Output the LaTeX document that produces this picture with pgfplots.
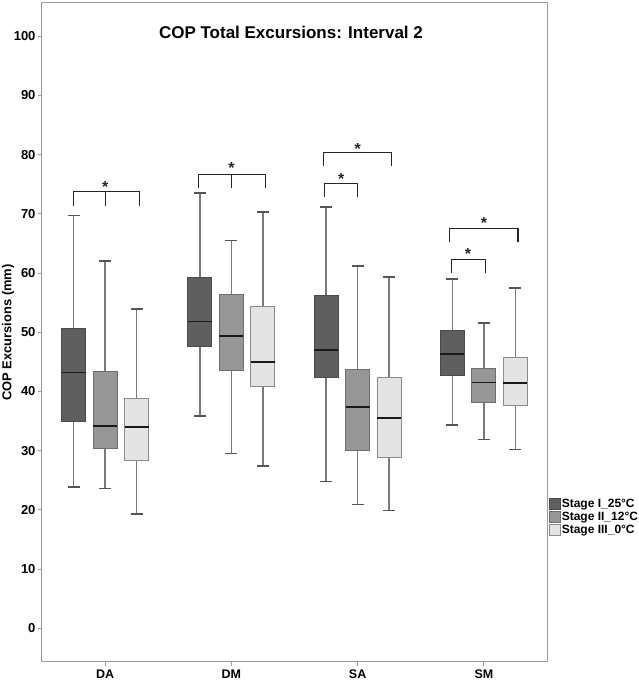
\documentclass[border=0pt]{standalone}
\usepackage{fontspec}
\setmainfont{Liberation Sans}
\usepackage{pgfplots}
\pgfplotsset{compat=1.18}
\definecolor{sone}{HTML}{5F5F5F}
\definecolor{stwo}{HTML}{979797}
\definecolor{sthree}{HTML}{E4E4E4}
\definecolor{bone}{HTML}{4A4A4A}
\definecolor{btwo}{HTML}{6E6E6E}
\definecolor{bthree}{HTML}{8A8A8A}
\definecolor{whisk}{HTML}{7A7A7A}
\definecolor{capc}{HTML}{555555}
\definecolor{framec}{HTML}{9A9A9A}
\pgfplotsset{
  sI/.style={fill=sone, draw=bone, line width=0.9pt},
  sII/.style={fill=stwo, draw=btwo, line width=0.9pt},
  sIII/.style={fill=sthree, draw=bthree, line width=0.9pt},
  whiskst/.style={draw=whisk, line width=1.4pt, mark=none},
  capst/.style={draw=capc, line width=1.7pt, mark=none},
  medst/.style={draw=black!90, line width=1.9pt, mark=none},
}
% #1 style, #2 position, #3 lower whisker, #4 Q1, #5 median, #6 Q3, #7 upper whisker
\newcommand{\drawbox}[7]{%
  \pgfmathsetmacro\myboxL{#2-0.095}\pgfmathsetmacro\myboxR{#2+0.095}%
  \pgfmathsetmacro\mycapL{#2-0.0475}\pgfmathsetmacro\mycapR{#2+0.0475}%
  \addplot[whiskst] coordinates {(#2,#3) (#2,#7)};
  \addplot[capst] coordinates {(\mycapL,#3) (\mycapR,#3)};
  \addplot[capst] coordinates {(\mycapL,#7) (\mycapR,#7)};
  \addplot[#1, mark=none] coordinates {(\myboxL,#4) (\myboxR,#4) (\myboxR,#6) (\myboxL,#6)} -- cycle;
  \addplot[medst] coordinates {(\myboxL,#5) (\myboxR,#5)};
}
\begin{document}
\begin{tikzpicture}
\useasboundingbox (0pt,0pt) rectangle (638pt,680pt);
\begin{axis}[
  at={(42pt,18pt)}, anchor=south west,
  scale only axis, width=505pt, height=659pt,
  xmin=0.5, xmax=4.5, ymin=-5.7, ymax=105.6,
  xtick={1,2,3,4}, xticklabels={DA,DM,SA,SM},
  ytick={0,10,...,100},
  xtick pos=lower, ytick pos=left,
  tick align=outside, major tick length=4pt,
  tick style={framec, line width=0.8pt},
  axis line style={framec, line width=1pt},
  /pgf/number format/assume math mode=true,
  yticklabel style={font=\bfseries\fontsize{13}{13}\selectfont, xshift=1pt},
  xticklabel style={font=\bfseries\fontsize{12.5}{12.5}\selectfont},
  ylabel={COP Excursions (mm)},
  every axis y label/.style={at={(rel axis cs:-0.0673,0.5)}, rotate=90, anchor=center,
    font=\bfseries\fontsize{12.9}{12.9}\selectfont},
  legend style={at={(1.003,0.2495)}, anchor=north west, draw=none, fill=none,
    inner sep=0pt, font=\bfseries\fontsize{12}{13}\selectfont,
    row sep=1.7pt, nodes={inner xsep=1.5pt, inner ysep=0.5pt}},
  legend cell align=left,
  legend image code/.code={\draw[#1] (0pt,-5.5pt) rectangle (11pt,5.5pt);},
  clip=false,
]
\addlegendimage{fill=sone, draw=bone, line width=0.6pt}
\addlegendentry{Stage I\_25°C}
\addlegendimage{fill=stwo, draw=btwo, line width=0.6pt}
\addlegendentry{Stage II\_12°C}
\addlegendimage{fill=sthree, draw=bthree, line width=0.6pt}
\addlegendentry{Stage III\_0°C}
% DA
\drawbox{sI}{0.75}{23.8}{35.0}{43.2}{50.7}{69.7}
\drawbox{sII}{1.00}{23.6}{30.4}{34.1}{43.3}{62.0}
\drawbox{sIII}{1.25}{19.3}{28.4}{34.0}{38.8}{53.9}
% DM
\drawbox{sI}{1.75}{35.8}{47.6}{51.8}{59.2}{73.5}
\drawbox{sII}{2.00}{29.5}{43.5}{49.3}{56.3}{65.5}
\drawbox{sIII}{2.25}{27.4}{40.8}{45.0}{54.4}{70.3}
% SA
\drawbox{sI}{2.75}{24.8}{42.3}{47.0}{56.2}{71.1}
\drawbox{sII}{3.00}{20.9}{30.1}{37.4}{43.75}{61.2}
\drawbox{sIII}{3.25}{19.9}{28.9}{35.5}{42.3}{59.3}
% SM
\drawbox{sI}{3.75}{34.3}{42.7}{46.3}{50.3}{59.0}
\drawbox{sII}{4.00}{31.9}{38.1}{41.5}{43.8}{51.6}
\drawbox{sIII}{4.25}{30.2}{37.7}{41.4}{45.8}{57.5}
% significance brackets
\begin{scope}[draw=black!85, line width=1.1pt]
\draw (axis cs:0.75,71.3) -- (axis cs:0.75,73.7) -- (axis cs:1.27,73.7) -- (axis cs:1.27,71.3);
\draw (axis cs:1.0,73.7) -- (axis cs:1.0,71.3);
\draw (axis cs:1.74,74.3) -- (axis cs:1.74,76.7) -- (axis cs:2.27,76.7) -- (axis cs:2.27,74.3);
\draw (axis cs:2.0,76.7) -- (axis cs:2.0,74.3);
\draw (axis cs:2.73,78.1) -- (axis cs:2.73,80.3) -- (axis cs:3.27,80.3) -- (axis cs:3.27,78.1);
\draw (axis cs:2.74,72.9) -- (axis cs:2.74,75.1) -- (axis cs:3.0,75.1) -- (axis cs:3.0,72.9);
\draw (axis cs:3.73,65.2) -- (axis cs:3.73,67.5) -- (axis cs:4.27,67.5) -- (axis cs:4.27,65.2);
\draw (axis cs:3.74,60.0) -- (axis cs:3.74,62.3) -- (axis cs:4.01,62.3) -- (axis cs:4.01,60.0);
\end{scope}
\begin{scope}[every node/.style={anchor=base, yshift=-9.2pt, inner sep=0pt, font=\bfseries\fontsize{16}{16}\selectfont, text=black!85}]
\node at (axis cs:1.0,75.2) {*};
\node at (axis cs:2.0,78.4) {*};
\node at (axis cs:3.0,81.6) {*};
\node at (axis cs:2.87,76.5) {*};
\node at (axis cs:4.0,69.0) {*};
\node at (axis cs:3.875,63.9) {*};
\end{scope}
\node[font=\bfseries\fontsize{17}{17}\selectfont] at (rel axis cs:0.493,0.956) {COP Total Excursions: Interval 2};
\end{axis}
\end{tikzpicture}
\end{document}
